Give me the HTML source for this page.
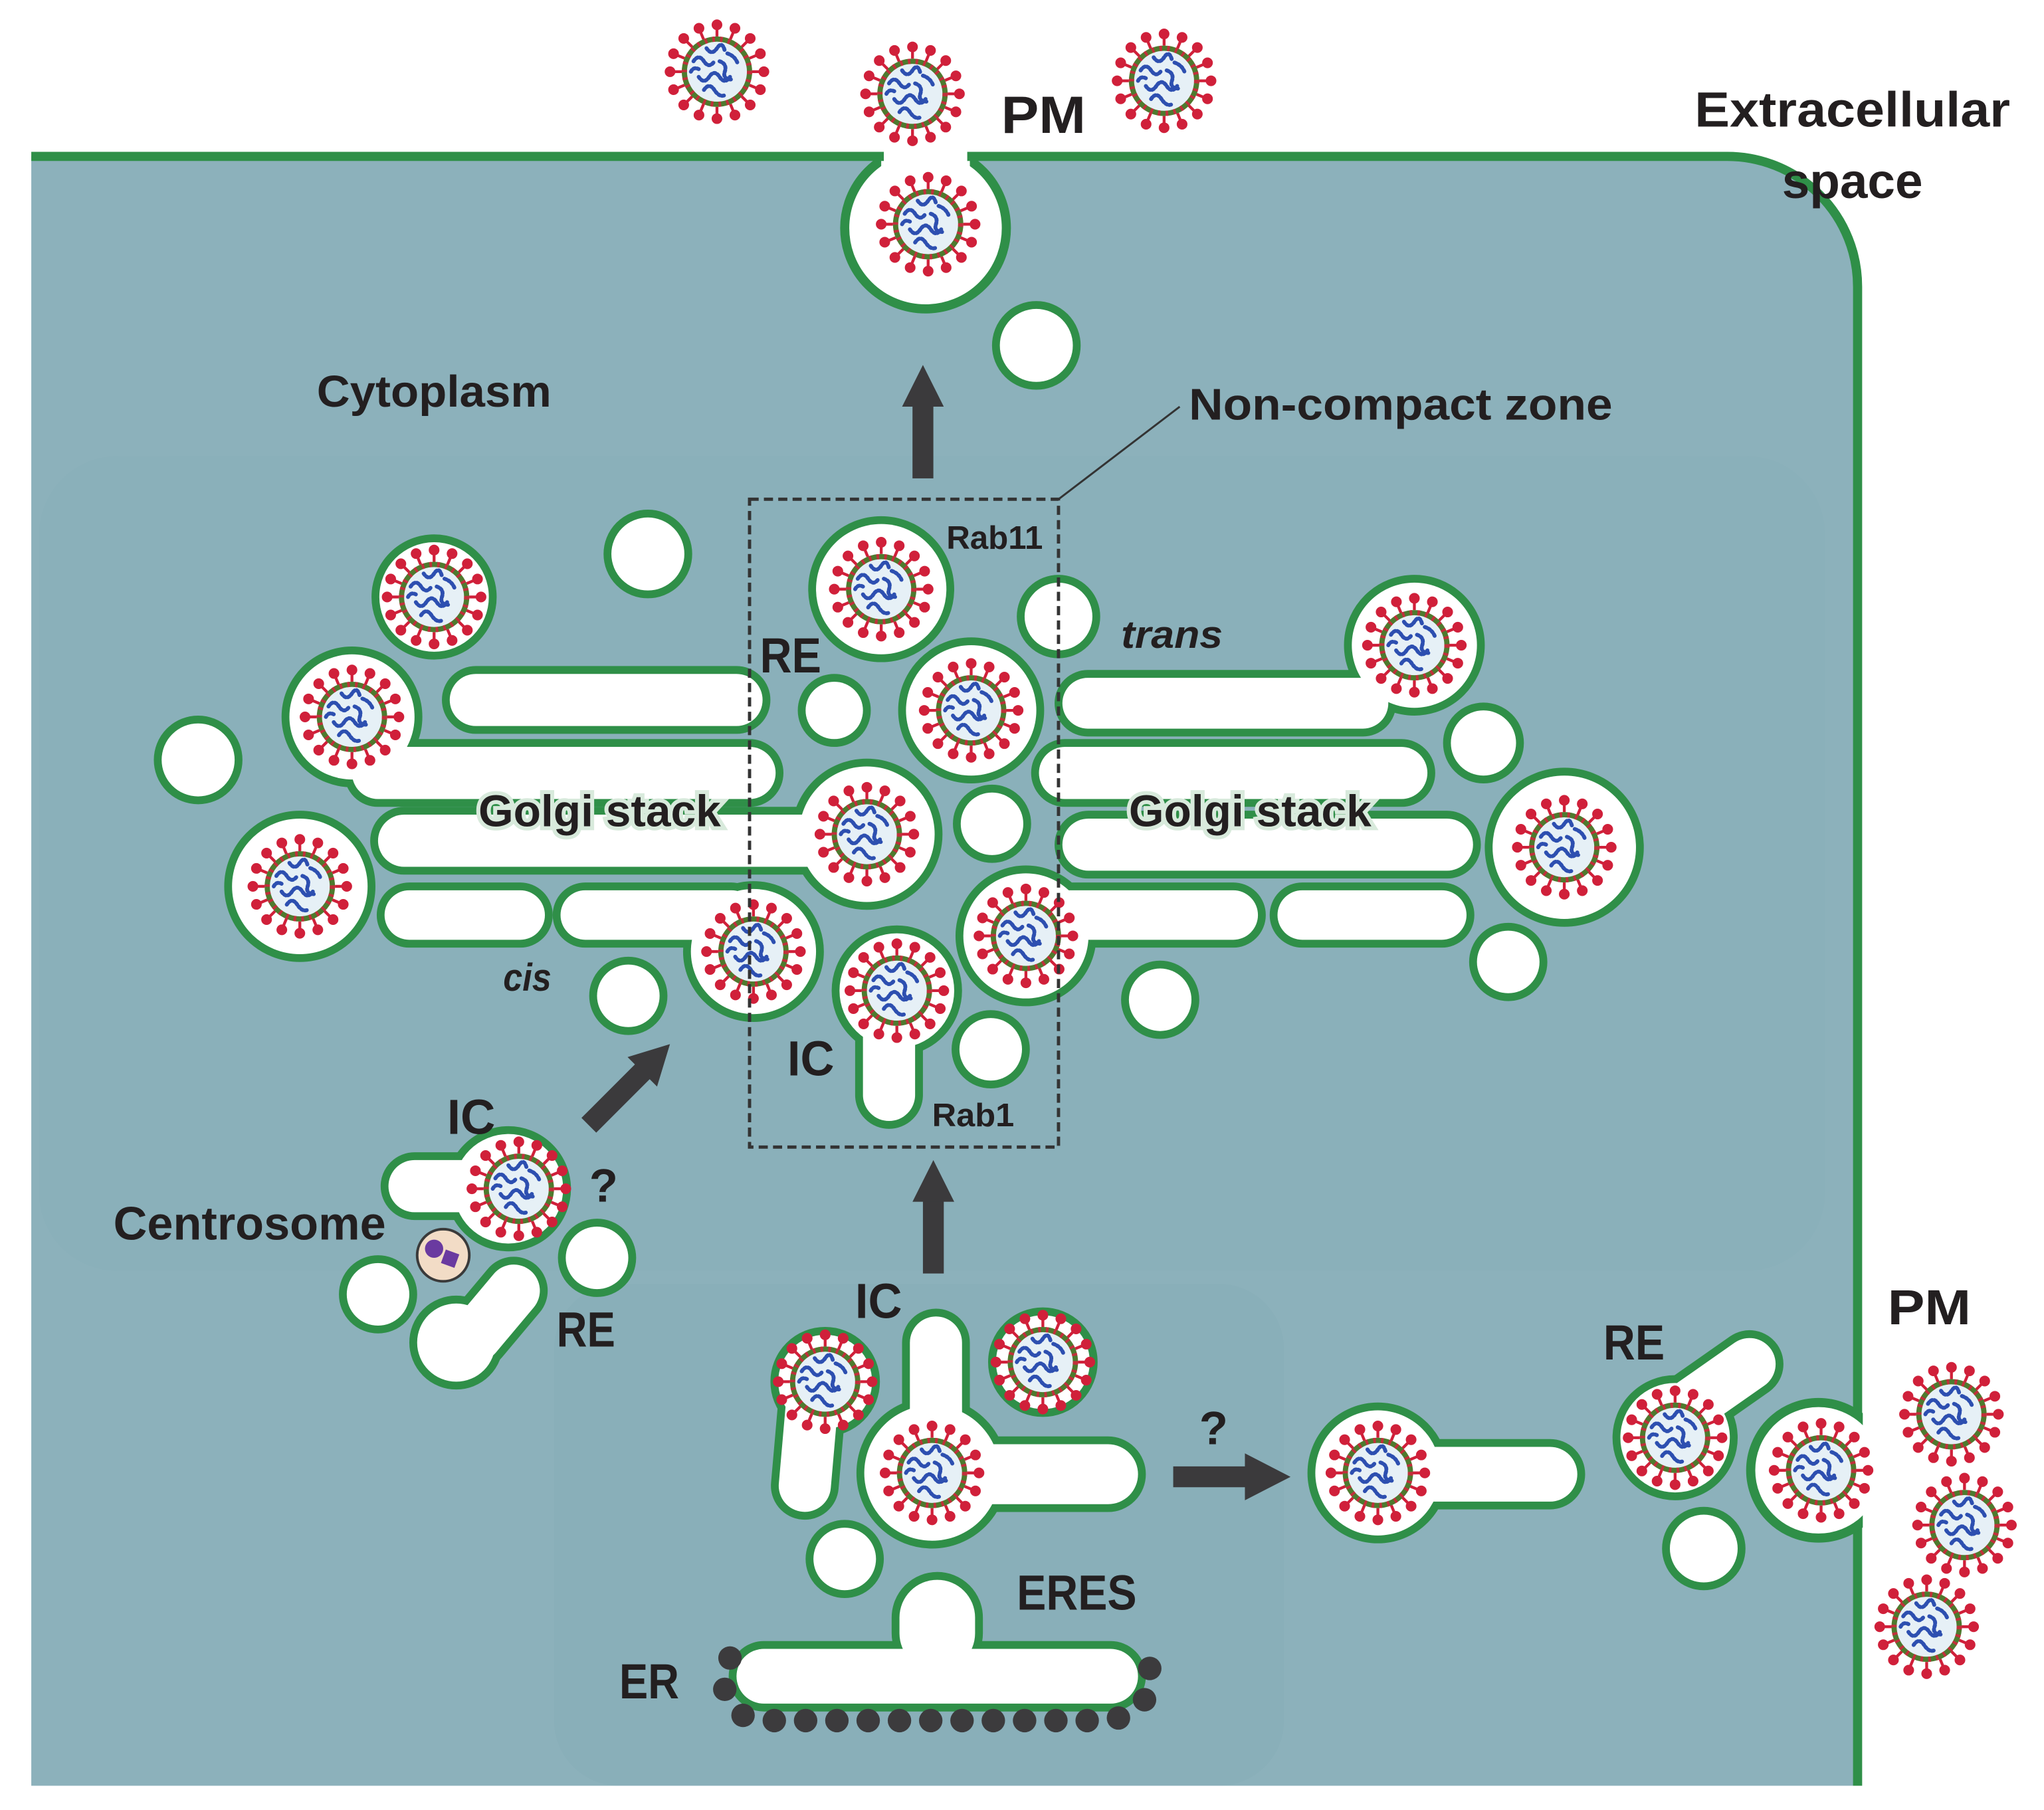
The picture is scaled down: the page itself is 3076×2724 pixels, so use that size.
<!DOCTYPE html>
<html><head><meta charset="utf-8"><style>
html,body{margin:0;padding:0;background:#fff;}
svg{display:block;}
text{font-family:"Liberation Sans",sans-serif;font-weight:bold;fill:#231f20;}
</style></head><body>
<svg width="3076" height="2724" viewBox="0 0 1568 1388.6" preserveAspectRatio="none" xmlns="http://www.w3.org/2000/svg">
<defs>
<g id="v">
 <g stroke="#d0203a" stroke-width="2.2" fill="#d0203a">
  <line x1="0" y1="-27" x2="0" y2="-36"/><circle cx="0" cy="-36" r="3"/>
  <line x1="0" y1="27" x2="0" y2="36"/><circle cx="0" cy="36" r="3"/>
  <line x1="-27" y1="0" x2="-36" y2="0"/><circle cx="-36" cy="0" r="3"/>
  <line x1="27" y1="0" x2="36" y2="0"/><circle cx="36" cy="0" r="3"/>
  <line x1="19" y1="19" x2="25.5" y2="25.5"/><circle cx="25.5" cy="25.5" r="3"/>
  <line x1="-19" y1="19" x2="-25.5" y2="25.5"/><circle cx="-25.5" cy="25.5" r="3"/>
  <line x1="19" y1="-19" x2="25.5" y2="-25.5"/><circle cx="25.5" cy="-25.5" r="3"/>
  <line x1="-19" y1="-19" x2="-25.5" y2="-25.5"/><circle cx="-25.5" cy="-25.5" r="3"/>
  <line x1="10.3" y1="24.9" x2="13.8" y2="33.3"/><circle cx="13.8" cy="33.3" r="3"/>
  <line x1="-10.3" y1="24.9" x2="-13.8" y2="33.3"/><circle cx="-13.8" cy="33.3" r="3"/>
  <line x1="10.3" y1="-24.9" x2="13.8" y2="-33.3"/><circle cx="13.8" cy="-33.3" r="3"/>
  <line x1="-10.3" y1="-24.9" x2="-13.8" y2="-33.3"/><circle cx="-13.8" cy="-33.3" r="3"/>
  <line x1="24.9" y1="10.3" x2="33.3" y2="13.8"/><circle cx="33.3" cy="13.8" r="3"/>
  <line x1="-24.9" y1="10.3" x2="-33.3" y2="13.8"/><circle cx="-33.3" cy="13.8" r="3"/>
  <line x1="24.9" y1="-10.3" x2="33.3" y2="-13.8"/><circle cx="33.3" cy="-13.8" r="3"/>
  <line x1="-24.9" y1="-10.3" x2="-33.3" y2="-13.8"/><circle cx="-33.3" cy="-13.8" r="3"/>
 </g>
 <circle r="25" fill="#e6f0f6" stroke="#4e7a2e" stroke-width="4"/>
 <circle r="25" fill="none" stroke="#c0303a" stroke-width="4" stroke-dasharray="2 4"/>
 <path d="M-18,-8 q4,-6 8,0 t8,0 M-14,4 q4,6 8,0 t8,0 t8,0 M-8,-18 q4,6 8,0 t6,2 M-10,14 q4,-6 8,0 t8,4 M2,-8 q6,2 4,8 t6,6 M-20,0 q2,-4 6,-2 M8,-14 q6,2 8,8" fill="none" stroke="#2d4fb0" stroke-width="3" stroke-dasharray="1.5 1.5" stroke-linecap="round"/>
</g>
<g id="mem">
 <!-- top area -->
 <circle cx="795" cy="265" r="28"/>
 <circle cx="497" cy="425" r="28"/>
 <circle cx="333" cy="458" r="42"/>
 <circle cx="152" cy="583" r="28"/>
 <!-- left golgi -->
 <rect x="345" y="517" width="240" height="40" rx="20"/>
 <circle cx="270" cy="550" r="48"/>
 <rect x="270" y="573" width="325" height="40" rx="20"/>
 <rect x="290" y="625" width="360" height="40" rx="20"/>
 <circle cx="665" cy="640" r="52"/>
 <circle cx="230" cy="680" r="52"/>
 <rect x="295" y="683" width="123" height="38" rx="19"/>
 <rect x="430" y="683" width="150" height="38" rx="19"/>
 <circle cx="578" cy="730" r="48"/>
 <circle cx="482" cy="764" r="24"/>
 <!-- center -->
 <circle cx="676" cy="452" r="50"/>
 <circle cx="812" cy="473" r="26"/>
 <circle cx="640" cy="545" r="22"/>
 <circle cx="745" cy="545" r="50"/>
 <circle cx="761" cy="632" r="24"/>
 <circle cx="787" cy="718" r="48"/>
 <rect x="795" y="683" width="170" height="38" rx="19"/>
 <rect x="980" y="683" width="145" height="38" rx="19"/>
 <circle cx="688" cy="760" r="44"/>
 <rect x="662" y="760" width="40" height="100" rx="20"/>
 <circle cx="760" cy="805" r="24"/>
 <circle cx="890" cy="767" r="24"/>
 <!-- right golgi -->
 <circle cx="1085" cy="495" r="48"/>
 <rect x="815" y="520" width="250" height="39" rx="19.5"/>
 <rect x="797" y="573" width="298" height="40" rx="20"/>
 <rect x="815" y="628" width="315" height="40" rx="20"/>
 <circle cx="1138" cy="570" r="25"/>
 <circle cx="1200" cy="650" r="55"/>
 <circle cx="1157" cy="738" r="24"/>
 <!-- centrosome area -->
 <rect x="298" y="890" width="100" height="40" rx="20"/>
 <circle cx="390" cy="912" r="42"/>
 <circle cx="458" cy="965" r="24"/>
 <circle cx="290" cy="993" r="24"/>
 <circle cx="350" cy="1030" r="30"/>
 <rect x="360" y="965" width="40" height="85" rx="20" transform="rotate(40 380 1007)"/>
 <!-- lower IC -->
 <circle cx="633" cy="1060" r="36"/>
 <rect x="600" y="1060" width="40" height="100" rx="20" transform="rotate(5 620 1110)"/>
 <rect x="698" y="1010" width="40" height="110" rx="20"/>
 <circle cx="715" cy="1130" r="52"/>
 <rect x="715" y="1108" width="158" height="46" rx="23"/>
 <circle cx="800" cy="1045" r="36"/>
 <circle cx="648" cy="1196" r="24"/>
 <!-- ER -->
 <rect x="565" y="1265" width="308" height="42" rx="21"/>
 <rect x="690" y="1212" width="58" height="70" rx="29"/>
 <!-- right -->
 <circle cx="1057" cy="1130" r="48"/>
 <rect x="1057" y="1110" width="153" height="42" rx="21"/>
 <circle cx="1285" cy="1103" r="42"/>
 <rect x="1300" y="1015" width="40" height="95" rx="20" transform="rotate(55 1320 1062)"/>
 <circle cx="1307" cy="1188" r="26"/>
</g>
</defs>
<rect x="0" y="0" width="1568" height="1389" fill="#fff"/>
<path d="M24,120 H1325 A100,100 0 0 1 1425,220 V1370 H24 Z" fill="#8cb1bb"/>
<rect x="30" y="350" width="1370" height="625" rx="60" fill="#8ab0ba"/>
<rect x="425" y="985" width="560" height="385" rx="50" fill="#89afb9"/>
<!-- PM bud top -->
<circle cx="710" cy="175" r="62" fill="#fff" stroke="#2f8f48" stroke-width="7"/>
<rect x="0" y="0" width="1568" height="118" fill="#fff"/>
<rect x="676" y="110" width="68" height="20" fill="#fff"/>
<path d="M24,120 H678 M742,120 H1325 A100,100 0 0 1 1425,220 V1095" fill="none" stroke="#2f8f48" stroke-width="7"/>
<path d="M1425,1162 V1370" fill="none" stroke="#2f8f48" stroke-width="7"/>
<!-- membranes -->
<use href="#mem" fill="#2f8f48" stroke="#2f8f48" stroke-width="12" stroke-linejoin="round"/>
<use href="#mem" fill="#fff" stroke="none"/>
<!-- right PM bud -->
<circle cx="1395" cy="1128" r="52" fill="#fff" stroke="#2f8f48" stroke-width="7"/>
<rect x="1429" y="1080" width="30" height="100" fill="#fff"/>
<!-- ER dots -->
<g fill="#3c3b3d">
 <circle cx="560" cy="1272" r="9"/><circle cx="556" cy="1296" r="9"/><circle cx="882" cy="1280" r="9"/><circle cx="878" cy="1304" r="9"/>
 <circle cx="570" cy="1316" r="9"/><circle cx="594" cy="1320" r="9"/><circle cx="618" cy="1320" r="9"/><circle cx="642" cy="1320" r="9"/><circle cx="666" cy="1320" r="9"/><circle cx="690" cy="1320" r="9"/><circle cx="714" cy="1320" r="9"/><circle cx="738" cy="1320" r="9"/><circle cx="762" cy="1320" r="9"/><circle cx="786" cy="1320" r="9"/><circle cx="810" cy="1320" r="9"/><circle cx="834" cy="1320" r="9"/><circle cx="858" cy="1318" r="9"/>
</g>
<!-- centrosome -->
<circle cx="340" cy="963" r="20" fill="#f2dcc6" stroke="#3a3a3a" stroke-width="2"/>
<circle cx="333" cy="958" r="7" fill="#6a3aa0"/>
<rect x="340" y="960" width="11" height="11" fill="#6a3aa0" transform="rotate(20 345 965)"/>
<!-- virions -->
<g>
<use href="#v" x="550" y="55"/><use href="#v" x="700" y="72"/><use href="#v" x="893" y="62"/><use href="#v" x="712" y="172"/>
<use href="#v" x="333" y="458"/><use href="#v" x="270" y="550"/><use href="#v" x="230" y="680"/><use href="#v" x="676" y="452"/>
<use href="#v" x="745" y="545"/><use href="#v" x="665" y="640"/><use href="#v" x="578" y="730"/><use href="#v" x="787" y="718"/>
<use href="#v" x="688" y="760"/><use href="#v" x="1085" y="495"/><use href="#v" x="1200" y="650"/><use href="#v" x="398" y="912"/>
<use href="#v" x="633" y="1060"/><use href="#v" x="715" y="1130"/><use href="#v" x="800" y="1045"/><use href="#v" x="1057" y="1130"/>
<use href="#v" x="1285" y="1103"/><use href="#v" x="1397" y="1128"/><use href="#v" x="1497" y="1085"/><use href="#v" x="1507" y="1170"/><use href="#v" x="1478" y="1248"/>
</g>
<!-- dashed zone -->
<rect x="575" y="383" width="237" height="497" fill="none" stroke="#333" stroke-width="2.5" stroke-dasharray="7 4"/>
<line x1="812" y1="383" x2="905" y2="312" stroke="#333" stroke-width="1.5"/>
<!-- arrows -->
<g fill="#3b3a3c">
 <rect x="700" y="310" width="16" height="57"/><polygon points="692,312 708,280 724,312"/>
 <rect x="708" y="920" width="16" height="57"/><polygon points="700,922 716,890 732,922"/>
 <polygon points="900,1125 955,1125 955,1115 990,1133 955,1151 955,1141 900,1141"/>
 <g transform="rotate(-45 480 835)"><rect x="440" y="827" width="60" height="16"/><polygon points="498,819 528,835 498,851"/></g>
</g>
<!-- labels -->
<g>
<text x="243" y="312" font-size="34" textLength="180" lengthAdjust="spacingAndGlyphs">Cytoplasm</text>
<text x="912" y="322" font-size="34" textLength="325" lengthAdjust="spacingAndGlyphs">Non-compact zone</text>
<text x="768" y="102" font-size="40" textLength="65" lengthAdjust="spacingAndGlyphs">PM</text>
<text x="1300" y="97" font-size="38" textLength="242" lengthAdjust="spacingAndGlyphs">Extracellular</text>
<text x="1367" y="152" font-size="38" textLength="108" lengthAdjust="spacingAndGlyphs">space</text>
<text x="726" y="421" font-size="25" font-weight="normal" textLength="74" lengthAdjust="spacingAndGlyphs">Rab11</text>
<text x="583" y="516" font-size="38" textLength="47" lengthAdjust="spacingAndGlyphs">RE</text>
<text x="860" y="497" font-size="30" font-style="italic" textLength="78" lengthAdjust="spacingAndGlyphs">trans</text>
<text x="367" y="634" font-size="34" textLength="186" lengthAdjust="spacingAndGlyphs" stroke="#d8eadc" stroke-width="6" paint-order="stroke">Golgi stack</text>
<text x="866" y="634" font-size="34" textLength="186" lengthAdjust="spacingAndGlyphs" stroke="#d8eadc" stroke-width="6" paint-order="stroke">Golgi stack</text>
<text x="386" y="760" font-size="30" font-style="italic" textLength="37" lengthAdjust="spacingAndGlyphs">cis</text>
<text x="604" y="825" font-size="38" textLength="36" lengthAdjust="spacingAndGlyphs">IC</text>
<text x="715" y="864" font-size="25" font-weight="normal" textLength="63" lengthAdjust="spacingAndGlyphs">Rab1</text>
<text x="343" y="870" font-size="38" textLength="37" lengthAdjust="spacingAndGlyphs">IC</text>
<text x="452" y="922" font-size="36">?</text>
<text x="87" y="951" font-size="36" textLength="209" lengthAdjust="spacingAndGlyphs">Centrosome</text>
<text x="427" y="1033" font-size="38" textLength="45" lengthAdjust="spacingAndGlyphs">RE</text>
<text x="656" y="1011" font-size="38" textLength="36" lengthAdjust="spacingAndGlyphs">IC</text>
<text x="920" y="1108" font-size="36">?</text>
<text x="1230" y="1043" font-size="38" textLength="47" lengthAdjust="spacingAndGlyphs">RE</text>
<text x="1448" y="1016" font-size="38" textLength="64" lengthAdjust="spacingAndGlyphs">PM</text>
<text x="780" y="1235" font-size="38" textLength="92" lengthAdjust="spacingAndGlyphs">ERES</text>
<text x="475" y="1303" font-size="38" textLength="46" lengthAdjust="spacingAndGlyphs">ER</text>
</g>
</svg>
</body></html>
